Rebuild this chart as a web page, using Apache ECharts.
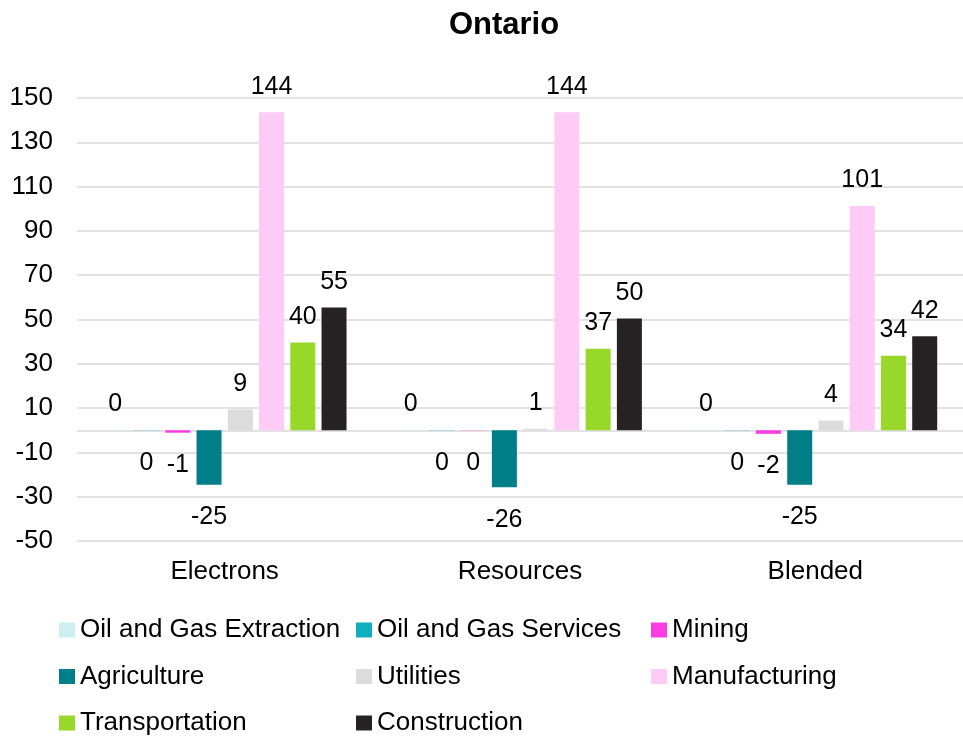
<!DOCTYPE html>
<html>
<head>
<meta charset="utf-8">
<script src="https://cdn.jsdelivr.net/npm/echarts@6/dist/echarts.min.js"></script>
<style>
html,body{margin:0;padding:0;background:#fff;}
#chart{width:963px;height:738px;}
</style>
</head>
<body>
<div id="chart"></div>
<script>
var categories = ['Electrons', 'Resources', 'Blended'];
var seriesNames = ['Oil and Gas Extraction', 'Oil and Gas Services', 'Mining', 'Agriculture', 'Utilities', 'Manufacturing', 'Transportation', 'Construction'];
var oilGasExtraction = [0.1, 0.1, 0.1];
var oilGasServices = [-0.1, -0.1, -0.1];
var mining = [-1.1, -0.1, -1.6];
var agriculture = [-24.6, -25.7, -24.6];
var utilities = [9.4, 0.7, 4.4];
var manufacturing = [143.6, 143.6, 101.2];
var transportation = [39.6, 36.8, 33.6];
var construction = [55.4, 50.4, 42.4];
var yTickLabels = [-50, -30, -10, 10, 30, 50, 70, 90, 110, 130, 150];

var colors = ['#cdeff1', '#10afc0', '#fb3de0', '#007f88', '#dcdcdc', '#fdcbf6', '#97d82a', '#262223'];
var allValues = [oilGasExtraction, oilGasServices, mining, agriculture, utilities, manufacturing, transportation, construction];
var FONT = "'Liberation Sans', Arial, Helvetica, sans-serif";

// split line colours: ticks every 10 from -50; show labelled ticks and the zero line
var splitColors = [];
for (var v = -50; v <= 150; v += 10) {
  splitColors.push((yTickLabels.indexOf(v) >= 0 || v === 0) ? '#d9d9d9' : 'rgba(0,0,0,0)');
}

function fmt(p) { var r = Math.round(p.value); return String(r || 0); }

var series = seriesNames.map(function (name, i) {
  return {
    name: name,
    type: 'bar',
    barWidth: 25,
    barGap: '25%',
    itemStyle: { color: colors[i] },
    data: allValues[i].map(function (val) {
      return {
        value: val,
        label: {
          show: true,
          position: val >= 0 ? 'top' : 'bottom',
          distance: val >= 0 ? 13 : 20,
          formatter: fmt,
          color: '#000',
          fontSize: 25,
          fontFamily: FONT
        }
      };
    })
  };
});

function legendCol(names, left) {
  return {
    orient: 'vertical',
    left: left,
    top: 617,
    height: 121,
    padding: 0,
    itemWidth: 16,
    itemHeight: 15,
    itemGap: 20.5,
    icon: 'rect',
    data: names,
    textStyle: { fontSize: 26, color: '#000', fontFamily: FONT, lineHeight: 26 }
  };
}

var chart = echarts.init(document.getElementById('chart'));
chart.setOption({
  animation: false,
  backgroundColor: '#fff',
  title: {
    text: 'Ontario',
    left: 499,
    top: 5,
    textAlign: 'center',
    textStyle: { fontSize: 31, fontWeight: 'bold', color: '#000', fontFamily: FONT }
  },
  legend: [
    legendCol([seriesNames[0], seriesNames[3], seriesNames[6]], 59),
    legendCol([seriesNames[1], seriesNames[4], seriesNames[7]], 356),
    legendCol([seriesNames[2], seriesNames[5]], 651)
  ],
  grid: { left: 77, right: -7, top: 98, height: 443, containLabel: false },
  xAxis: {
    type: 'category',
    data: categories,
    axisLine: { show: false, onZero: false },
    axisTick: { show: false },
    axisLabel: { fontSize: 26, color: '#000', fontFamily: FONT, margin: 18 },
    splitLine: { show: false }
  },
  yAxis: {
    type: 'value',
    min: -50,
    max: 150,
    interval: 10,
    axisLine: { show: false },
    axisTick: { show: false },
    axisLabel: {
      fontSize: 26, color: '#000', fontFamily: FONT, margin: 24,
      formatter: function (v) { return yTickLabels.indexOf(v) >= 0 ? String(v) : ''; }
    },
    splitLine: { show: true, showMinLine: true, showMaxLine: true, lineStyle: { color: splitColors, width: 1.5 } }
  },
  series: series
});
</script>
</body>
</html>
